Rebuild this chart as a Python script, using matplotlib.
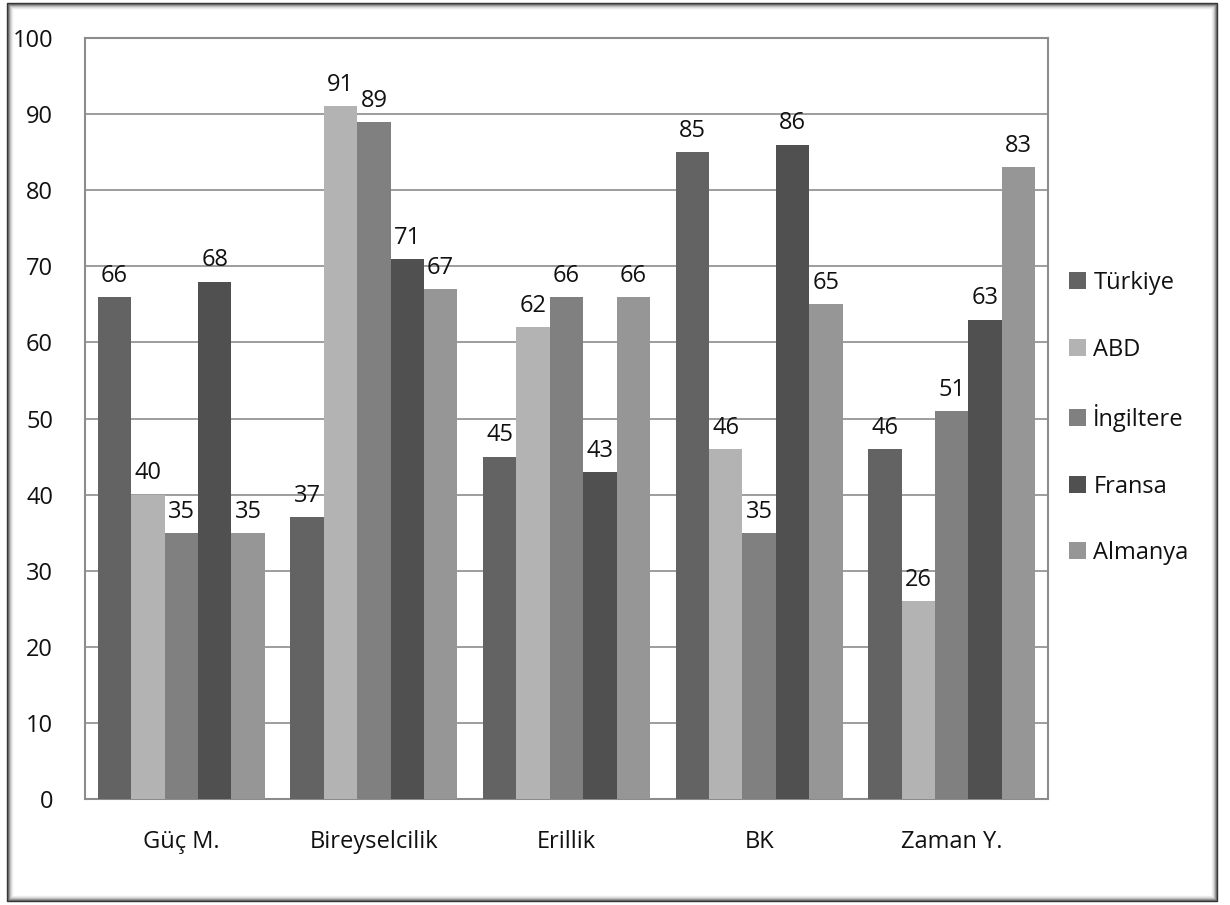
import matplotlib
matplotlib.use("Agg")
import matplotlib.pyplot as plt
import numpy as np
from matplotlib.patches import Rectangle

categories = ["Güç M.", "Bireyselcilik", "Erillik", "BK", "Zaman Y."]
countries = ["Türkiye", "ABD", "İngiltere", "Fransa", "Almanya"]
turkiye = [66, 37, 45, 85, 46]
abd = [40, 91, 62, 46, 26]
ingiltere = [35, 89, 66, 35, 51]
fransa = [68, 71, 43, 86, 63]
almanya = [35, 67, 66, 65, 83]
series = [turkiye, abd, ingiltere, fransa, almanya]
colors = ["#636363", "#b3b3b3", "#808080", "#505050", "#969696"]
yticks = list(range(0, 101, 10))

plt.rcParams["font.family"] = ["Open Sans", "DejaVu Sans"]
FS = 17
TXT = "#111111"
W, H = 1230, 905
fig = plt.figure(figsize=(W / 100, H / 100), dpi=100)

# outer frame with a soft inner shadow
def px(x0, y0, x1, y1):
    return (x0 / W, 1 - y1 / H, (x1 - x0) / W, (y1 - y0) / H)

for i, c in enumerate(["#2e2e2e", "#5e5e5e", "#8e8e8e", "#b8b8b8", "#d8d8d8", "#ececec"]):
    x0, y0, w, h = px(7 + i, 3 + i, 1217 - i, 901 - i)
    fig.patches.append(Rectangle((x0, y0), w, h, transform=fig.transFigure,
                                 fill=False, edgecolor=c, linewidth=1.0, zorder=0))

ax = fig.add_axes([85 / W, 1 - 799 / H, (1048 - 85) / W, (799 - 38) / H])
n = len(series)
bw = 1 / (n + 0.77)
x = np.arange(len(categories))
for i, (vals, col, name) in enumerate(zip(series, colors, countries)):
    pos = x + (i - (n - 1) / 2) * bw
    bars = ax.bar(pos, vals, width=bw, color=col, label=name, zorder=3)
    for b, v in zip(bars, vals):
        ax.text(b.get_x() + b.get_width() / 2, v + 1.2, str(v), ha="center",
                va="bottom", fontsize=FS, color=TXT)

ax.set_xlim(-0.5, len(categories) - 0.5)
ax.set_ylim(0, 100)
ax.set_yticks(yticks)
ax.set_yticklabels([str(t) for t in yticks], fontsize=FS, color=TXT)
ax.set_xticks(x)
ax.set_xticklabels(categories, fontsize=FS, color=TXT)
ax.tick_params(axis="y", length=0, pad=23)
ax.tick_params(axis="x", length=0, pad=22)
ax.grid(axis="y", color="#8c8c8c", linewidth=1.2, zorder=0)
for s in ax.spines.values():
    s.set_color("#8c8c8c")
    s.set_linewidth(1.5)

handles, labels = ax.get_legend_handles_labels()
leg = fig.legend(handles, labels, loc="center left", bbox_to_anchor=(1048 / W, 1 - 418 / H),
                 frameon=False, fontsize=FS, handlelength=0.72, handleheight=0.72,
                 handletextpad=0.3, labelspacing=1.8)
for t in leg.get_texts():
    t.set_color(TXT)

fig.savefig("out.png", dpi=100, facecolor="white")
